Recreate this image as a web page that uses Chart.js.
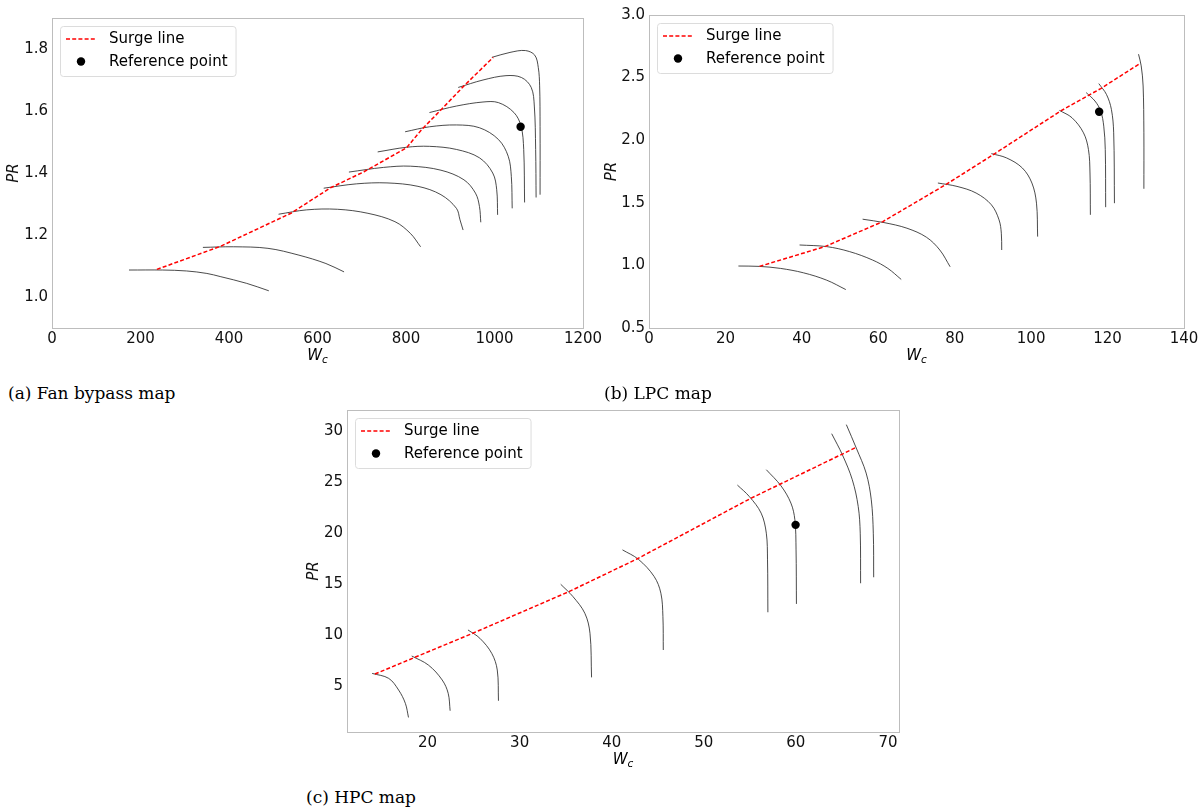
<!DOCTYPE html>
<html><head><meta charset="utf-8">
<script src="https://cdn.jsdelivr.net/npm/chart.js@4.4.0/dist/chart.umd.min.js"></script>
<style>
html,body{margin:0;padding:0;background:#fff;}
body{width:1198px;height:812px;position:relative;overflow:hidden;}
.wrap{position:absolute;}
canvas{display:block;}
.cap{position:absolute;font-family:'DejaVu Serif',serif;font-size:17px;line-height:17px;color:#000;white-space:nowrap;}
</style></head><body>
<div class="wrap" style="left:600px;top:0;"><canvas id="cb" width="598" height="372"></canvas></div>
<div class="wrap" style="left:0;top:0;"><canvas id="ca" width="608" height="372"></canvas></div>
<div class="wrap" style="left:290px;top:390px;"><canvas id="cc" width="620" height="390"></canvas></div>
<div class="cap" style="left:8px;top:385px;">(a) Fan bypass map</div>
<div class="cap" style="left:604px;top:385px;">(b) LPC map</div>
<div class="cap" style="left:306px;top:789px;">(c) HPC map</div>
<script>
// ---------- (a) Fan bypass map ----------
const fanXTicks = [0, 200, 400, 600, 800, 1000, 1200];
const fanYTicks = [1.0, 1.2, 1.4, 1.6, 1.8];
const fanSurgeWc = [237, 380, 541, 629, 705, 801, 836, 882, 931, 997];
const fanSurgePR = [1.089, 1.163, 1.271, 1.352, 1.404, 1.481, 1.541, 1.608, 1.681, 1.773];
const fanRefWc = [1059];
const fanRefPR = [1.549];
const fanSpeedWc = [
  [174, 250, 304, 350, 380, 440, 490],
  [341, 410, 488, 558, 619, 660],
  [512, 575, 645, 714, 775, 810, 833],
  [614, 688, 757, 827, 879, 914, 922, 929],
  [671, 749, 810, 879, 931, 957, 966, 969],
  [736, 801, 853, 914, 966, 996, 1005, 1007],
  [798, 853, 914, 966, 1009, 1031, 1038, 1040],
  [853, 914, 974, 1009, 1044, 1060, 1066, 1068],
  [918, 974, 1026, 1061, 1083, 1090, 1093, 1094],
  [994, 1035, 1070, 1091, 1099, 1102, 1103, 1103]
];
const fanSpeedPR = [
  [1.087, 1.087, 1.084, 1.076, 1.066, 1.044, 1.020],
  [1.160, 1.162, 1.157, 1.135, 1.108, 1.081],
  [1.267, 1.281, 1.283, 1.270, 1.243, 1.205, 1.162],
  [1.351, 1.365, 1.368, 1.357, 1.330, 1.286, 1.249, 1.216],
  [1.403, 1.418, 1.422, 1.409, 1.378, 1.335, 1.292, 1.241],
  [1.468, 1.483, 1.486, 1.476, 1.449, 1.400, 1.346, 1.265],
  [1.533, 1.549, 1.555, 1.546, 1.508, 1.454, 1.389, 1.286],
  [1.595, 1.616, 1.629, 1.627, 1.595, 1.551, 1.476, 1.305],
  [1.676, 1.700, 1.714, 1.708, 1.676, 1.616, 1.476, 1.321],
  [1.773, 1.789, 1.795, 1.780, 1.740, 1.681, 1.550, 1.330]
];

// ---------- (b) LPC map ----------
const lpcXTicks = [0, 20, 40, 60, 80, 100, 120, 140];
const lpcYTicks = [0.5, 1.0, 1.5, 2.0, 2.5, 3.0];
const lpcSurgeWc = [28.9, 46.0, 61.2, 77.6, 90.1, 107.7, 115.0, 118.2, 128.6];
const lpcSurgePR = [0.992, 1.150, 1.350, 1.644, 1.885, 2.233, 2.358, 2.412, 2.615];
const lpcRefWc = [117.8];
const lpcRefPR = [2.227];
const lpcSpeedWc = [
  [23.4, 28.9, 34.4, 40.4, 46.5, 51.5],
  [39.4, 46.5, 52.5, 58.5, 62.5, 66.0],
  [55.9, 61.5, 67.5, 72.6, 76.1, 78.8],
  [75.6, 80.6, 85.6, 89.6, 91.6, 92.2, 92.3],
  [89.6, 93.6, 97.7, 100.2, 101.4, 101.7],
  [107.4, 110.7, 113.7, 115.0, 115.4, 115.5],
  [114.4, 116.7, 118.2, 119.0, 119.4, 119.5],
  [117.7, 119.7, 121.0, 121.6, 121.8],
  [128.1, 128.8, 129.3, 129.5, 129.5]
];
const lpcSpeedPR = [
  [0.995, 0.992, 0.976, 0.941, 0.882, 0.807],
  [1.163, 1.150, 1.110, 1.043, 0.976, 0.888],
  [1.369, 1.342, 1.297, 1.225, 1.123, 0.989],
  [1.658, 1.631, 1.578, 1.484, 1.364, 1.257, 1.123],
  [1.893, 1.858, 1.778, 1.658, 1.497, 1.230],
  [2.238, 2.179, 2.059, 1.925, 1.738, 1.404],
  [2.380, 2.313, 2.233, 2.112, 1.925, 1.465],
  [2.452, 2.366, 2.246, 2.059, 1.497],
  [2.687, 2.594, 2.433, 2.059, 1.612]
];

// ---------- (c) HPC map ----------
const hpcXTicks = [20, 30, 40, 50, 60, 70];
const hpcYTicks = [5, 10, 15, 20, 25, 30];
const hpcSurgeWc = [14.28, 18.36, 24.9, 35.36, 42.68, 55.15, 58.38, 65.05, 66.56];
const hpcSurgePR = [6.15, 7.69, 10.15, 14.25, 17.43, 23.44, 24.85, 27.77, 28.43];
const hpcRefWc = [59.97];
const hpcRefPR = [20.81];
const hpcSpeedWc = [
  [13.98, 15.78, 16.86, 17.59, 17.93],
  [18.28, 20.09, 21.59, 22.24, 22.45],
  [24.39, 25.68, 26.97, 27.57, 27.70],
  [34.46, 35.79, 37.08, 37.64, 37.81],
  [41.17, 42.89, 44.61, 45.34, 45.56, 45.60],
  [53.65, 54.94, 56.23, 56.79, 56.92, 56.96],
  [56.79, 58.38, 59.46, 59.89, 60.02, 60.06],
  [63.89, 65.05, 66.13, 66.77, 66.99, 67.03],
  [65.48, 66.56, 67.63, 68.19, 68.41, 68.45]
];
const hpcSpeedPR = [
  [6.21, 5.72, 4.57, 3.26, 1.88],
  [7.92, 7.03, 5.56, 4.25, 2.54],
  [10.48, 9.66, 8.18, 6.54, 3.52],
  [14.97, 13.76, 12.12, 10.15, 5.82],
  [18.35, 17.43, 15.73, 14.09, 11.79, 8.51],
  [24.72, 23.60, 21.96, 19.99, 17.37, 12.22],
  [26.23, 24.65, 22.95, 21.31, 18.35, 13.04],
  [29.77, 27.70, 25.24, 22.62, 19.99, 15.07],
  [30.66, 28.36, 25.90, 23.27, 19.99, 15.66]
];

const seriesLabels = ['Surge line', 'Reference point'];
const FONT = "'DejaVu Sans', sans-serif";

function pts(xs, ys) { return xs.map((x, i) => ({x: x, y: ys[i]})); }

function buildDatasets(surgeX, surgeY, refX, refY, spX, spY) {
  const ds = [
    {label: seriesLabels[0], data: pts(surgeX, surgeY), showLine: true, borderColor: '#ff0000',
     borderWidth: 1.5, borderDash: [4, 2.2], pointRadius: 0, tension: 0, order: 1},
    {label: seriesLabels[1], data: pts(refX, refY), showLine: false, pointRadius: 4.2,
     pointBackgroundColor: '#000', pointBorderColor: '#000', pointBorderWidth: 0, order: 0}
  ];
  spX.forEach((xs, i) => {
    ds.push({label: 'speed' + i, data: pts(xs, spY[i]), showLine: true, borderColor: 'rgba(30,30,30,0.8)',
      borderWidth: 1, pointRadius: 0, tension: 0.35, order: 2});
  });
  return ds;
}

const mapPlugin = {
  id: 'mapDecor',
  afterDraw(chart) {
    const ctx = chart.ctx, a = chart.chartArea;
    ctx.save();
    ctx.strokeStyle = '#bdbdbd'; ctx.lineWidth = 1;
    ctx.strokeRect(Math.round(a.left) + 0.5, Math.round(a.top) + 0.5, Math.round(a.right - a.left), Math.round(a.bottom - a.top));
    const ds = chart.data.datasets;
    ctx.font = '15px ' + FONT;
    const tw = Math.max(ctx.measureText(ds[0].label).width, ctx.measureText(ds[1].label).width);
    const x0 = Math.round(a.left) + 8, y0 = Math.round(a.top) + 8, w = 49 + tw + 8, h = 50;
    ctx.beginPath();
    ctx.roundRect(x0 + 0.5, y0 + 0.5, w, h, 3);
    ctx.fillStyle = 'rgba(255,255,255,0.8)'; ctx.fill();
    ctx.strokeStyle = '#dcdcdc'; ctx.stroke();
    ctx.beginPath(); ctx.setLineDash(ds[0].borderDash); ctx.strokeStyle = ds[0].borderColor; ctx.lineWidth = ds[0].borderWidth;
    ctx.moveTo(x0 + 6, y0 + 13); ctx.lineTo(x0 + 35, y0 + 13); ctx.stroke();
    ctx.setLineDash([]);
    ctx.beginPath(); ctx.arc(x0 + 21, y0 + 35.5, ds[1].pointRadius, 0, Math.PI * 2); ctx.fillStyle = '#000'; ctx.fill();
    ctx.fillStyle = '#000'; ctx.textBaseline = 'middle'; ctx.textAlign = 'left';
    ctx.fillText(ds[0].label, x0 + 49, y0 + 13);
    ctx.fillText(ds[1].label, x0 + 49, y0 + 36);
    ctx.textBaseline = 'alphabetic';
    ctx.font = 'italic 15px ' + FONT;
    const wW = ctx.measureText('W').width;
    ctx.font = 'italic 10.5px ' + FONT;
    const wc = ctx.measureText('c').width;
    const cx = (a.left + a.right) / 2, tot = wW + wc;
    const by = a.bottom + 32;
    ctx.font = 'italic 15px ' + FONT;
    ctx.fillText('W', cx - tot / 2, by);
    ctx.font = 'italic 10.5px ' + FONT;
    ctx.fillText('c', cx - tot / 2 + wW, by + 2.5);
    ctx.restore();
  }
};

function makeChart(id, datasets, cfg) {
  return new Chart(document.getElementById(id), {
    type: 'scatter',
    data: {datasets: datasets},
    plugins: [mapPlugin],
    options: {
      responsive: false, animation: false, devicePixelRatio: 1,
      layout: {padding: {left: 0, top: cfg.padTop, right: cfg.padRight, bottom: 0}},
      plugins: {legend: {display: false}, tooltip: {enabled: false}},
      scales: {
        x: {
          type: 'linear', min: cfg.xMin, max: cfg.xMax,
          grid: {display: false, drawTicks: false}, border: {display: false},
          ticks: {color: '#111', font: {family: FONT, size: 15}, padding: 2, maxRotation: 0,
                  callback: v => cfg.xFmt(v)},
          afterBuildTicks: s => { s.ticks = cfg.xTicks.map(v => ({value: v})); },
          afterFit: s => { s.height = cfg.xH; s.paddingLeft = 0; s.paddingRight = 0; }
        },
        y: {
          type: 'linear', min: cfg.yMin, max: cfg.yMax,
          grid: {display: false, drawTicks: false}, border: {display: false},
          ticks: {color: '#111', font: {family: FONT, size: 15}, padding: 4,
                  callback: v => cfg.yFmt(v)},
          afterBuildTicks: s => { s.ticks = cfg.yTicks.map(v => ({value: v})); },
          afterFit: s => { s.width = cfg.yW; s.paddingTop = 0; s.paddingBottom = 0; },
          title: {display: true, text: 'PR', color: '#111',
                  font: {family: FONT, size: 15, style: 'italic'}, padding: {top: cfg.titlePad, bottom: 0}}
        }
      }
    }
  });
}

makeChart('ca', buildDatasets(fanSurgeWc, fanSurgePR, fanRefWc, fanRefPR, fanSpeedWc, fanSpeedPR), {
  padTop: 18, padRight: 25, xH: 44, yW: 52, titlePad: 5,
  xMin: 0, xMax: 1200, yMin: 0.9, yMax: 1.9, xTicks: fanXTicks, yTicks: fanYTicks,
  xFmt: v => String(Math.round(v)), yFmt: v => v.toFixed(1)
});
makeChart('cb', buildDatasets(lpcSurgeWc, lpcSurgePR, lpcRefWc, lpcRefPR, lpcSpeedWc, lpcSpeedPR), {
  padTop: 15, padRight: 14, xH: 44, yW: 49, titlePad: 3,
  xMin: 0, xMax: 140, yMin: 0.5, yMax: 3.0, xTicks: lpcXTicks, yTicks: lpcYTicks,
  xFmt: v => String(Math.round(v)), yFmt: v => v.toFixed(1)
});
makeChart('cc', buildDatasets(hpcSurgeWc, hpcSurgePR, hpcRefWc, hpcRefPR, hpcSpeedWc, hpcSpeedPR), {
  padTop: 20, padRight: 11, xH: 48, yW: 57, titlePad: 15,
  xMin: 11.25, xMax: 71.2, yMin: 0.45, yMax: 32.1, xTicks: hpcXTicks, yTicks: hpcYTicks,
  xFmt: v => String(Math.round(v)), yFmt: v => String(Math.round(v))
});
</script>
</body></html>
